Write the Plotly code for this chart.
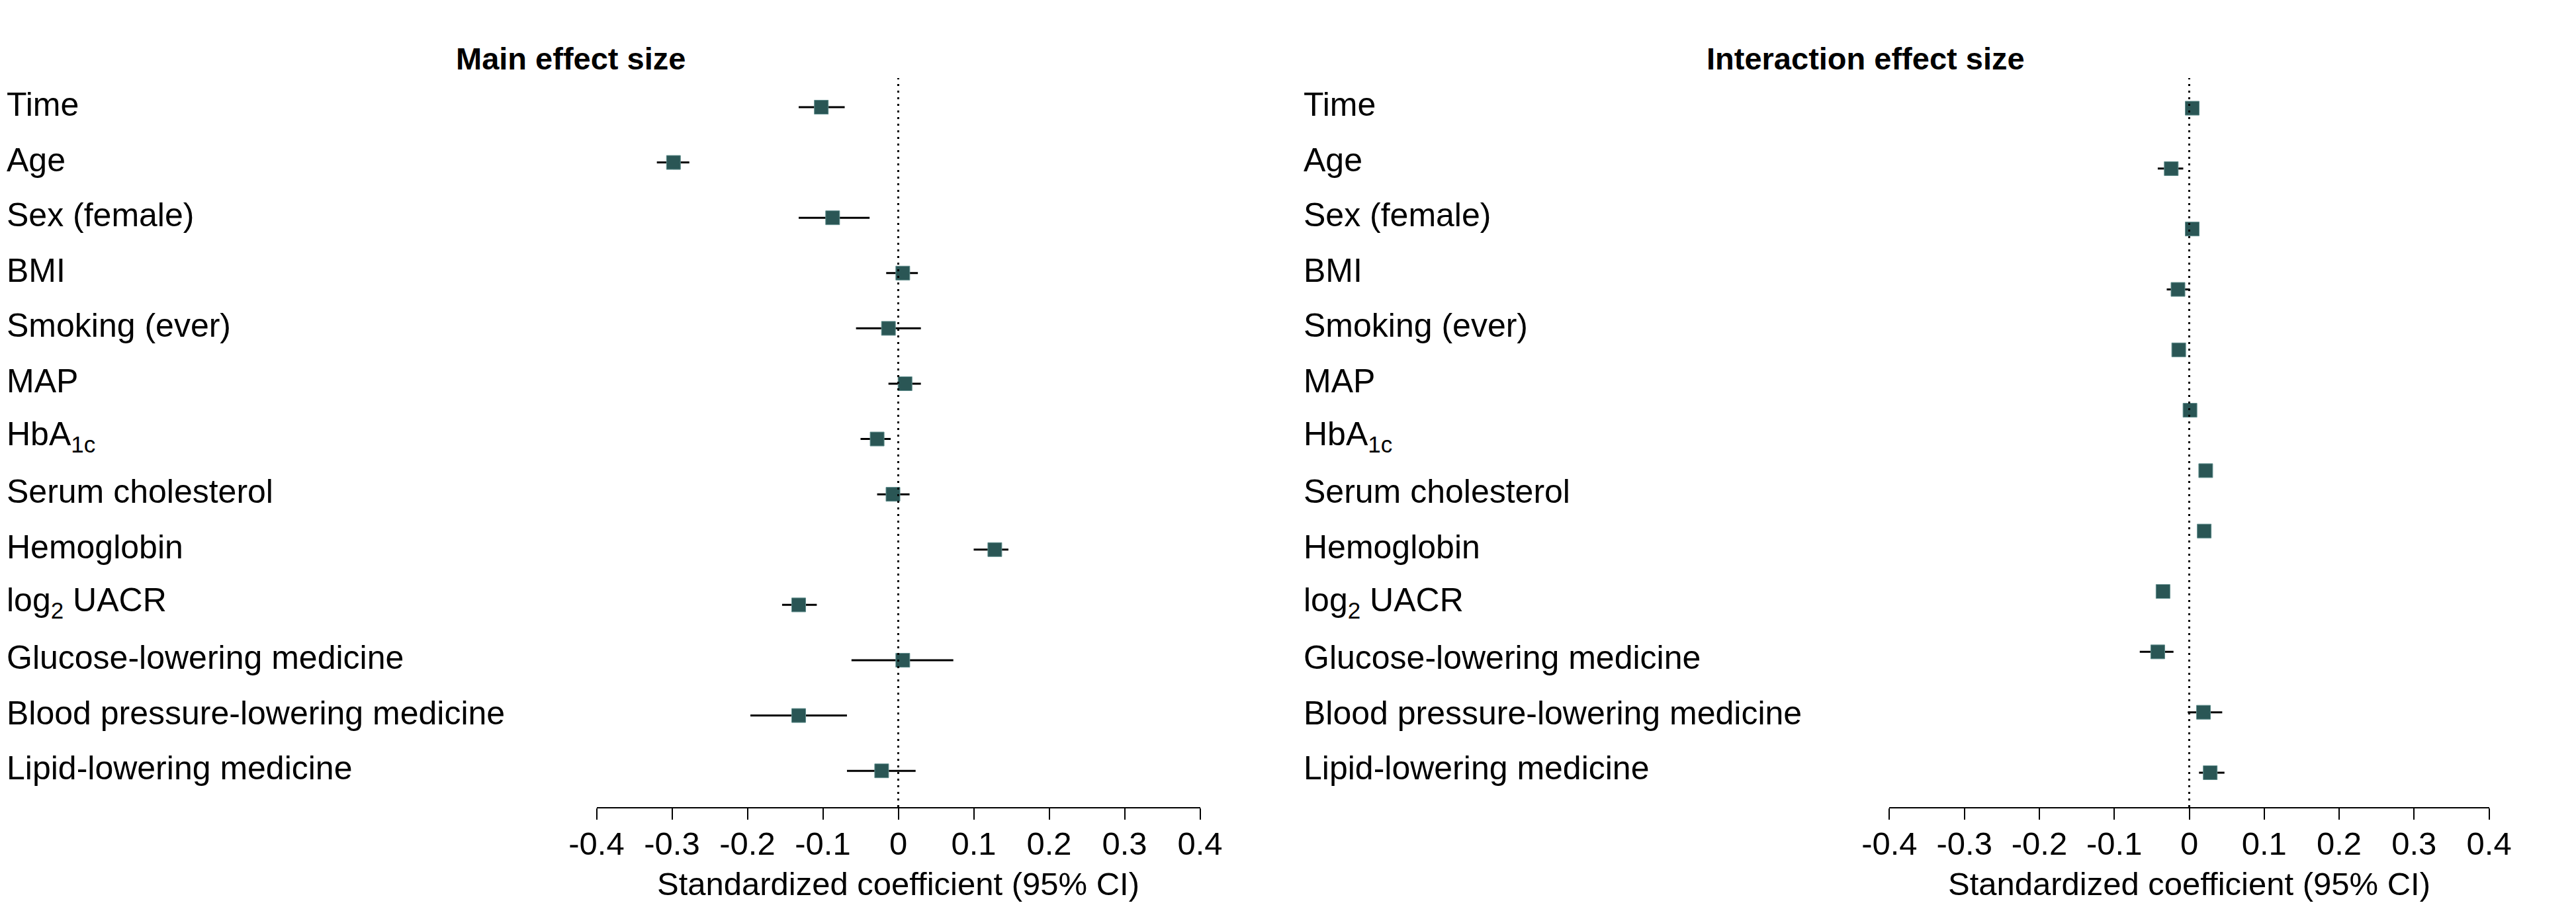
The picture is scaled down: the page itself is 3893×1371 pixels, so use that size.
import plotly.graph_objects as go

# covariates listed down both panels
labels = ["Time", "Age", "Sex (female)", "BMI", "Smoking (ever)", "MAP",
          "HbA<sub>1c</sub>", "Serum cholesterol", "Hemoglobin",
          "log<sub>2</sub> UACR", "Glucose-lowering medicine",
          "Blood pressure-lowering medicine", "Lipid-lowering medicine"]

# main effects: estimate and 95% CI
main_est = [-0.102, -0.298, -0.087, 0.006, -0.013, 0.009, -0.028, -0.007, 0.128, -0.132, 0.006, -0.132, -0.022]
main_lo = [-0.132, -0.320, -0.132, -0.016, -0.056, -0.013, -0.050, -0.028, 0.100, -0.154, -0.062, -0.196, -0.068]
main_hi = [-0.071, -0.277, -0.038, 0.026, 0.030, 0.030, -0.010, 0.015, 0.146, -0.108, 0.073, -0.068, 0.023]

# interaction effects (12 estimates spread over the panel height)
int_est = [0.004, -0.024, 0.004, -0.015, -0.014, 0.001, 0.022, 0.020, -0.035, -0.042, 0.019, 0.028]
int_lo = [-0.003, -0.042, -0.003, -0.030, -0.021, -0.006, 0.015, 0.013, -0.042, -0.066, -0.002, 0.013]
int_hi = [0.011, -0.008, 0.011, 0.001, -0.007, 0.008, 0.029, 0.027, -0.028, -0.021, 0.044, 0.047]

tick_vals = [-0.4, -0.3, -0.2, -0.1, 0, 0.1, 0.2, 0.3, 0.4]
tick_text = ["-0.4", "-0.3", "-0.2", "-0.1", "0", "0.1", "0.2", "0.3", "0.4"]

W, H = 3893, 1371
teal = "#2A5655"
font = "Liberation Sans"


def ci(est, lo, hi):
    return dict(type="data", symmetric=False,
                array=[h - e for e, h in zip(est, hi)],
                arrayminus=[e - l for e, l in zip(est, lo)],
                color="black", thickness=3, width=0)


fig = go.Figure()
fig.add_trace(go.Scatter(x=main_est, y=list(range(len(main_est))), mode="markers",
                         error_x=ci(main_est, main_lo, main_hi),
                         marker=dict(symbol="square", size=21, color=teal,
                                     line=dict(width=1, color="#5E8C8B")),
                         xaxis="x", yaxis="y", hoverinfo="x"))
fig.add_trace(go.Scatter(x=int_est, y=list(range(len(int_est))), mode="markers",
                         error_x=ci(int_est, int_lo, int_hi),
                         marker=dict(symbol="square", size=21, color=teal,
                                     line=dict(width=1, color="#5E8C8B")),
                         xaxis="x2", yaxis="y2", hoverinfo="x"))

y_dom = [1 - 1212 / H, 1 - 110 / H]
xax = dict(range=[-0.4, 0.4], tickvals=tick_vals, ticktext=tick_text,
           showgrid=False, zeroline=False, showline=True, linecolor="black",
           linewidth=2, ticks="outside", ticklen=17, tickwidth=2, tickcolor="black",
           tickfont=dict(size=49, color="black"), ticklabelstandoff=-6,
           title=dict(text="Standardized coefficient (95% CI)",
                      font=dict(size=49, color="black"), standoff=18),
           automargin=False)
yax = dict(showgrid=False, zeroline=False, showticklabels=False, showline=False,
           domain=y_dom, automargin=False)

fig.update_layout(
    width=W, height=H,
    margin=dict(l=0, r=0, t=0, b=0),
    paper_bgcolor="white", plot_bgcolor="white",
    font=dict(family=font, color="black"),
    showlegend=False,
    xaxis=dict(xax, domain=[893.5 / W, 1805.5 / W], anchor="y"),
    xaxis2=dict(xax, domain=[2847.4 / W, 3753.6 / W], anchor="y2"),
    yaxis=dict(yax, range=[12.656, -0.526]),
    yaxis2=dict(yax, range=[11.57, -0.499], anchor="x2"),
)

# dotted reference line at zero
for xr, yr in [("x", "y"), ("x2", "y2")]:
    fig.add_shape(type="line", xref=xr, yref=yr + " domain", x0=0, x1=0, y0=0, y1=1,
                  line=dict(color="black", width=3, dash="3px,7px"))

# row labels
for x0 in [0.0, 1960 / W]:
    for i, lab in enumerate(labels):
        fig.add_annotation(x=x0, xref="paper", y=i, yref="y", text=lab,
                           showarrow=False, xanchor="left", yanchor="middle",
                           yshift=4, font=dict(size=50, color="black"))

# panel titles
for xc, t in [(854, "Main effect size"), (2811, "Interaction effect size")]:
    fig.add_annotation(x=xc / W, xref="paper", y=1 - 80 / H, yref="paper",
                       text="<b>" + t + "</b>", showarrow=False,
                       xanchor="center", yanchor="middle",
                       font=dict(size=47, color="black"))

fig.write_html("out.html")
